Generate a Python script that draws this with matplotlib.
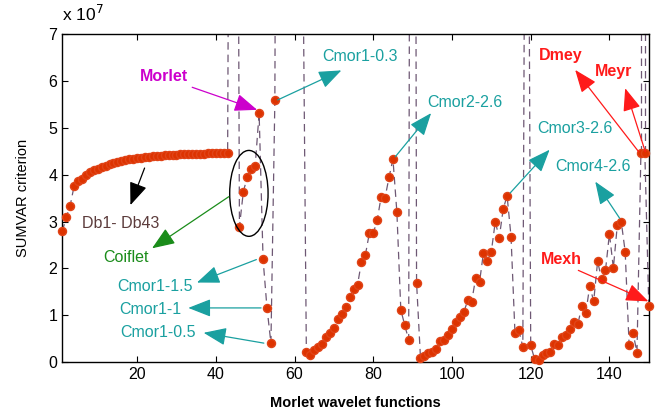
import numpy as np
import matplotlib
matplotlib.use("Agg")
import matplotlib.pyplot as plt
from matplotlib.patches import Ellipse, FancyArrowPatch

plt.rcParams['font.family'] = ['Liberation Sans', 'DejaVu Sans']

#: SUMVAR criterion (x 1e7) for each wavelet, in plotting order
db_vals = [2.79, 3.09, 3.34, 3.76, 3.87, 3.91, 4.00, 4.05, 4.09, 4.13,
           4.16, 4.19, 4.22, 4.25, 4.27, 4.29, 4.31, 4.33, 4.34, 4.35,
           4.36, 4.37, 4.38, 4.39, 4.40, 4.40, 4.41, 4.41, 4.42, 4.42,
           4.43, 4.43, 4.43, 4.44, 4.44, 4.44, 4.44, 4.45, 4.45, 4.45,
           4.45, 4.45, 4.45]
# 44-62: off-scale values, coiflets, morlet, cmor1-x
group2 = [25.0, 25.0, 2.89, 3.64, 3.95, 4.11, 4.19, 5.31, 2.20, 1.16,
          0.41, 5.59, 30.0, 30.0, 30.0, 30.0, 30.0, 30.0, 10.0]
# 63-90
group3 = [0.23, 0.15, 0.26, 0.33, 0.40, 0.54, 0.63, 0.73, 0.93, 1.04,
          1.18, 1.40, 1.56, 1.65, 2.14, 2.29, 2.75, 2.75, 3.03, 3.53,
          3.51, 3.94, 4.33, 3.20, 1.12, 0.79, 0.48, 40.0]
# 91-119
group4 = [1.70, 0.09, 0.13, 0.20, 0.23, 0.28, 0.45, 0.48, 0.59, 0.71,
          0.85, 0.96, 1.07, 1.32, 1.29, 1.79, 1.71, 2.34, 2.17, 2.36,
          3.00, 2.65, 3.26, 3.55, 2.68, 0.63, 0.68, 0.33, 20.0]
# 120-147
group5 = [0.36, 0.07, 0.06, 0.16, 0.20, 0.23, 0.40, 0.38, 0.54, 0.59,
          0.71, 0.85, 0.82, 1.21, 1.05, 1.63, 1.30, 2.15, 1.78, 1.96,
          2.74, 2.01, 2.92, 3.00, 2.36, 0.38, 0.63, 0.21]
# dmey, meyr, mexh
others = [4.47, 4.45, 1.21]

sumvar = np.array(db_vals + group2 + group3 + group4 + group5 + others)
idx = np.arange(1, len(sumvar) + 1)

fig = plt.figure(figsize=(6.56, 4.17), dpi=100)
ax = fig.add_axes([0.095, 0.131, 0.894, 0.788])

line_col = '#6e5874'
ax.plot(idx, sumvar, '--', color=line_col, lw=0.9, dashes=(6, 4), zorder=2)
# dmey / meyr lines running off the top
ax.vlines(idx[147:149], sumvar[147:149], 7, colors=line_col, lw=0.9,
          linestyles=(0, (6, 4)), zorder=2)
ax.plot(idx, sumvar, 'o', color='#dd3300', mec='#e04418', ms=5.8, zorder=3, clip_on=False)

ax.set_xlim(1, 150)
ax.set_ylim(0, 7)
ax.set_xticks([20, 40, 60, 80, 100, 120, 140])
ax.set_yticks(range(8))
ax.tick_params(direction='in', top=True, right=True, length=4, labelsize=11.5, width=0.8)
for s in ax.spines.values():
    s.set_linewidth(1.0)

ax.set_xlabel('Morlet wavelet functions', fontsize=10.5, fontweight='bold', labelpad=10)
ax.set_ylabel('SUMVAR criterion', fontsize=10.5, labelpad=13)
ax.text(0.0, 1.03, r'x 10$^{7}$', transform=ax.transAxes, fontsize=12.5, va='bottom', ha='left')

ax.add_patch(Ellipse((48.4, 3.60), 9.75, 1.83, fill=False, ec='black', lw=1.0, zorder=4))

teal = '#1aa0a0'
red = '#ff1a1a'

#: label, text position, arrow start, arrow tip, colour, bold
notes = [
    ('Morlet', (26.9, 6.10), (34.0, 5.86), (50.5, 5.38), '#cc00cc', True),
    ('Cmor1-0.3', (76.7, 6.52), (55.7, 5.59), (71.9, 6.22), teal, False),
    ('Cmor2-2.6', (103.4, 5.53), (85.6, 4.38), (94.7, 5.31), teal, False),
    ('Cmor3-2.6', (131.2, 4.99), (114.8, 3.61), (124.8, 4.53), teal, False),
    ('Cmor4-2.6', (135.9, 4.17), (142.6, 3.07), (136.4, 3.85), teal, False),
    ('Dmey', (127.6, 6.53), (147.4, 4.49), (131.3, 6.23), red, True),
    ('Meyr', (141.0, 6.19), (149.1, 4.49), (144.0, 5.84), red, True),
    ('Mexh', (127.8, 2.19), (132.1, 1.96), (149.9, 1.30), red, True),
    ('Db1- Db43', (15.9, 2.95), (21.9, 4.14), (18.3, 3.35), '#5c3c3c', False),
    ('Coiflet', (17.2, 2.24), (43.3, 3.53), (23.8, 2.43), '#1a8c1a', False),
    ('Cmor1-1.5', (24.6, 1.62), (50.3, 2.19), (35.2, 1.70), teal, False),
    ('Cmor1-1', (23.4, 1.12), (51.5, 1.16), (33.0, 1.16), teal, False),
    ('Cmor1-0.5', (25.3, 0.64), (52.2, 0.41), (36.9, 0.63), teal, False),
]

for label, txy, a0, a1, col, bold in notes:
    ax.text(txy[0], txy[1], label, color=col, fontsize=11.5,
            fontweight='bold' if bold else 'normal', ha='center', va='center', zorder=5)
    arrow_col = 'black' if label.startswith('Db') else col
    ax.add_patch(FancyArrowPatch(a0, a1, arrowstyle='-|>,head_length=1.4,head_width=0.55',
                                 mutation_scale=10, color=arrow_col, lw=0.9,
                                 shrinkA=0, shrinkB=0, zorder=5, clip_on=False))

fig.savefig('out.png', dpi=100)
